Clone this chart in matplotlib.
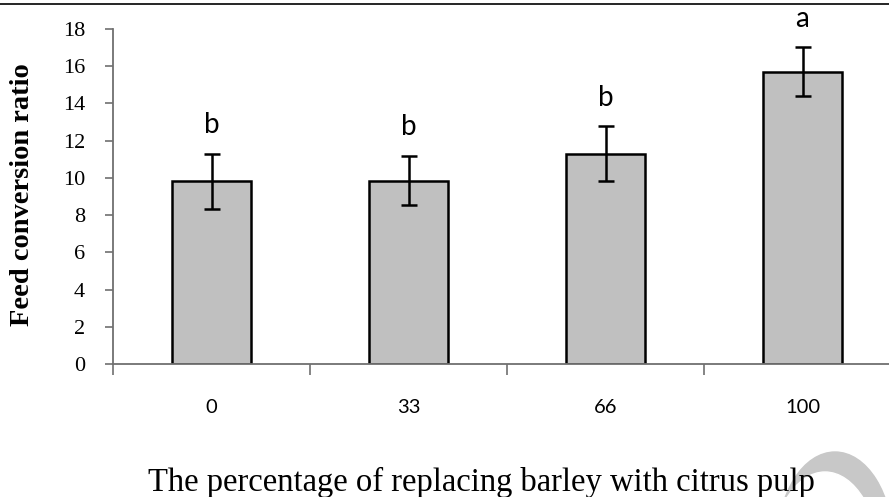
import numpy as np
import matplotlib
matplotlib.use("Agg")
import matplotlib.pyplot as plt
from matplotlib.lines import Line2D
from matplotlib.patches import Ellipse

# data
categories = ["0", "33", "66", "100"]
fcr_mean = [9.82, 9.85, 11.30, 15.70]
fcr_err = [1.47, 1.33, 1.47, 1.32]
sig_letters = ["b", "b", "b", "a"]

W, H, DPI = 889, 497, 100
fig = plt.figure(figsize=(W / DPI, H / DPI), dpi=DPI)

# axes placed in pixels (right side runs past the image edge like the original)
left, top, right, bottom = 113, 29, 901, 364
ax = fig.add_axes([left / W, (H - bottom) / H, (right - left) / W, (bottom - top) / H])

x = np.arange(len(categories))
ax.bar(x, fcr_mean, width=0.40, color="#c0c0c0", edgecolor="black", linewidth=1.8, zorder=2)
ax.errorbar(x, fcr_mean, yerr=fcr_err, fmt="none", ecolor="black",
            elinewidth=1.8, capsize=6, capthick=1.8, zorder=3)

for xi, m, e, lab in zip(x, fcr_mean, fcr_err, sig_letters):
    ax.text(xi, m + e + 1.1, lab, ha="center", va="baseline",
            fontsize=20, family="Lato", clip_on=False)

ax.set_xlim(-0.5, len(categories) - 0.5)
ax.set_ylim(0, 18)

# tick marks between categories, labels under the bars
ax.set_xticks(np.arange(-0.5, len(categories), 1.0))
ax.set_xticklabels([])
ax.set_xticks(x, minor=True)
ax.set_xticklabels(categories, minor=True, fontsize=14.5, family="Lato")
ax.tick_params(axis="x", which="major", direction="out", length=8, width=1.2, color="#707070")
ax.tick_params(axis="x", which="minor", length=0, pad=25)

ax.set_yticks(np.arange(0, 19, 2))
ax.tick_params(axis="y", direction="out", length=6, width=1.2, color="#707070", pad=14)
for t in ax.get_yticklabels():
    t.set_family("Liberation Serif")
    t.set_fontsize(16)

for s in ["top", "right"]:
    ax.spines[s].set_visible(False)
for s in ["left", "bottom"]:
    ax.spines[s].set_color("#707070")
    ax.spines[s].set_linewidth(1.3)

ax.set_ylabel("Feed conversion ratio", family="Liberation Serif", fontweight="bold", fontsize=20.5)
ax.yaxis.set_label_coords(23 / W, (H - 195) / H, transform=fig.transFigure)
ax.yaxis.label.set_va("center")
ax.set_xlabel("The percentage of replacing barley with citrus pulp",
              family="Liberation Serif", fontsize=23.5)
ax.xaxis.set_label_coords(481 / W, (H - 482) / H, transform=fig.transFigure)
ax.xaxis.label.set_va("center")

# thin border along the top of the image
fig.add_artist(Line2D([0, 1], [(H - 4) / H] * 2, transform=fig.transFigure,
                      color="black", linewidth=1.2))

# faint watermark arc in the lower right corner
outer = Ellipse((835 / DPI, (H - 545) / DPI), 116 / DPI, 186 / DPI,
                transform=fig.dpi_scale_trans, color="#c8c8c8", zorder=-2)
inner = Ellipse((825 / DPI, (H - 565) / DPI), 110 / DPI, 186 / DPI,
                transform=fig.dpi_scale_trans, color="white", zorder=-1)
fig.add_artist(outer)
fig.add_artist(inner)

fig.savefig("out.png", dpi=DPI)
